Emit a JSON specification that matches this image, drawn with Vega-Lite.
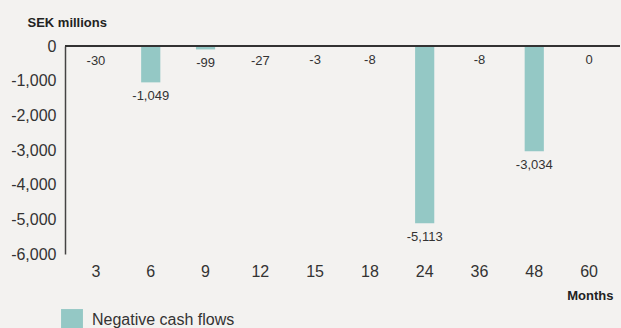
{
  "$schema": "https://vega.github.io/schema/vega-lite/v6.json",
  "width": 555,
  "height": 208,
  "autosize": {"type": "none"},
  "padding": {"left": 65, "top": 46, "right": 1, "bottom": 74},
  "background": "#f3f2f0",
  "config": {
    "view": {"stroke": null},
    "font": "Liberation Sans",
    "locale": {"number": {"decimal": ".", "thousands": ",", "grouping": [3], "currency": ["", ""], "minus": "-"}}
  },
  "data": {"values": [
    {"month": "3", "value": -30, "series": "Negative cash flows"},
    {"month": "6", "value": -1049, "series": "Negative cash flows"},
    {"month": "9", "value": -99, "series": "Negative cash flows"},
    {"month": "12", "value": -27, "series": "Negative cash flows"},
    {"month": "15", "value": -3, "series": "Negative cash flows"},
    {"month": "18", "value": -8, "series": "Negative cash flows"},
    {"month": "24", "value": -5113, "series": "Negative cash flows"},
    {"month": "36", "value": -8, "series": "Negative cash flows"},
    {"month": "48", "value": -3034, "series": "Negative cash flows"},
    {"month": "60", "value": 0, "series": "Negative cash flows"}
  ]},
  "encoding": {
    "x": {
      "field": "month", "type": "ordinal", "sort": null,
      "scale": {"paddingInner": 0.65, "paddingOuter": 0.39},
      "axis": {
        "title": "Months", "titleFont": "Liberation Sans", "titleFontSize": 13, "titleFontWeight": "bold",
        "titleColor": "#222", "titleX": 548, "titleY": 45, "titleAlign": "right", "titleBaseline": "alphabetic",
        "labelAngle": 0, "labelFontSize": 16, "labelColor": "#333", "labelPadding": 9,
        "domain": false, "ticks": false
      }
    },
    "y": {
      "field": "value", "type": "quantitative",
      "scale": {"domain": [-6000, 0], "nice": false},
      "axis": {
        "values": [0, -1000, -2000, -3000, -4000, -5000, -6000],
        "format": ",d", "labelOverlap": false, "labelFlush": false,
        "title": "SEK millions", "titleAngle": 0, "titleFontSize": 13, "titleFontWeight": "bold",
        "titleColor": "#222", "titleX": -38, "titleY": -20, "titleAlign": "left", "titleBaseline": "alphabetic",
        "labelFontSize": 16, "labelColor": "#333", "labelPadding": 9,
        "ticks": false, "grid": false, "domainColor": "#444", "domainWidth": 1.5
      }
    }
  },
  "layer": [
    {
      "mark": {"type": "bar"},
      "encoding": {
        "color": {
          "field": "series", "type": "nominal",
          "scale": {"range": ["#94c8c5"]},
          "legend": {
            "title": null, "orient": "none", "legendX": -4, "legendY": 263,
            "symbolType": "square", "symbolSize": 480, "symbolStrokeWidth": 0, "symbolOpacity": 1,
            "labelFontSize": 16, "labelColor": "#333", "labelOffset": 9
          }
        }
      }
    },
    {
      "mark": {"type": "text", "dy": 14, "baseline": "middle", "fontSize": 13, "color": "#333"},
      "encoding": {
        "text": {"field": "value", "type": "quantitative", "format": ",d"}
      }
    },
    {
      "mark": {"type": "rule", "color": "#333", "strokeWidth": 1.5},
      "encoding": {"x": {"value": 0}, "x2": {"value": 555}, "y": {"value": 0}}
    }
  ]
}
